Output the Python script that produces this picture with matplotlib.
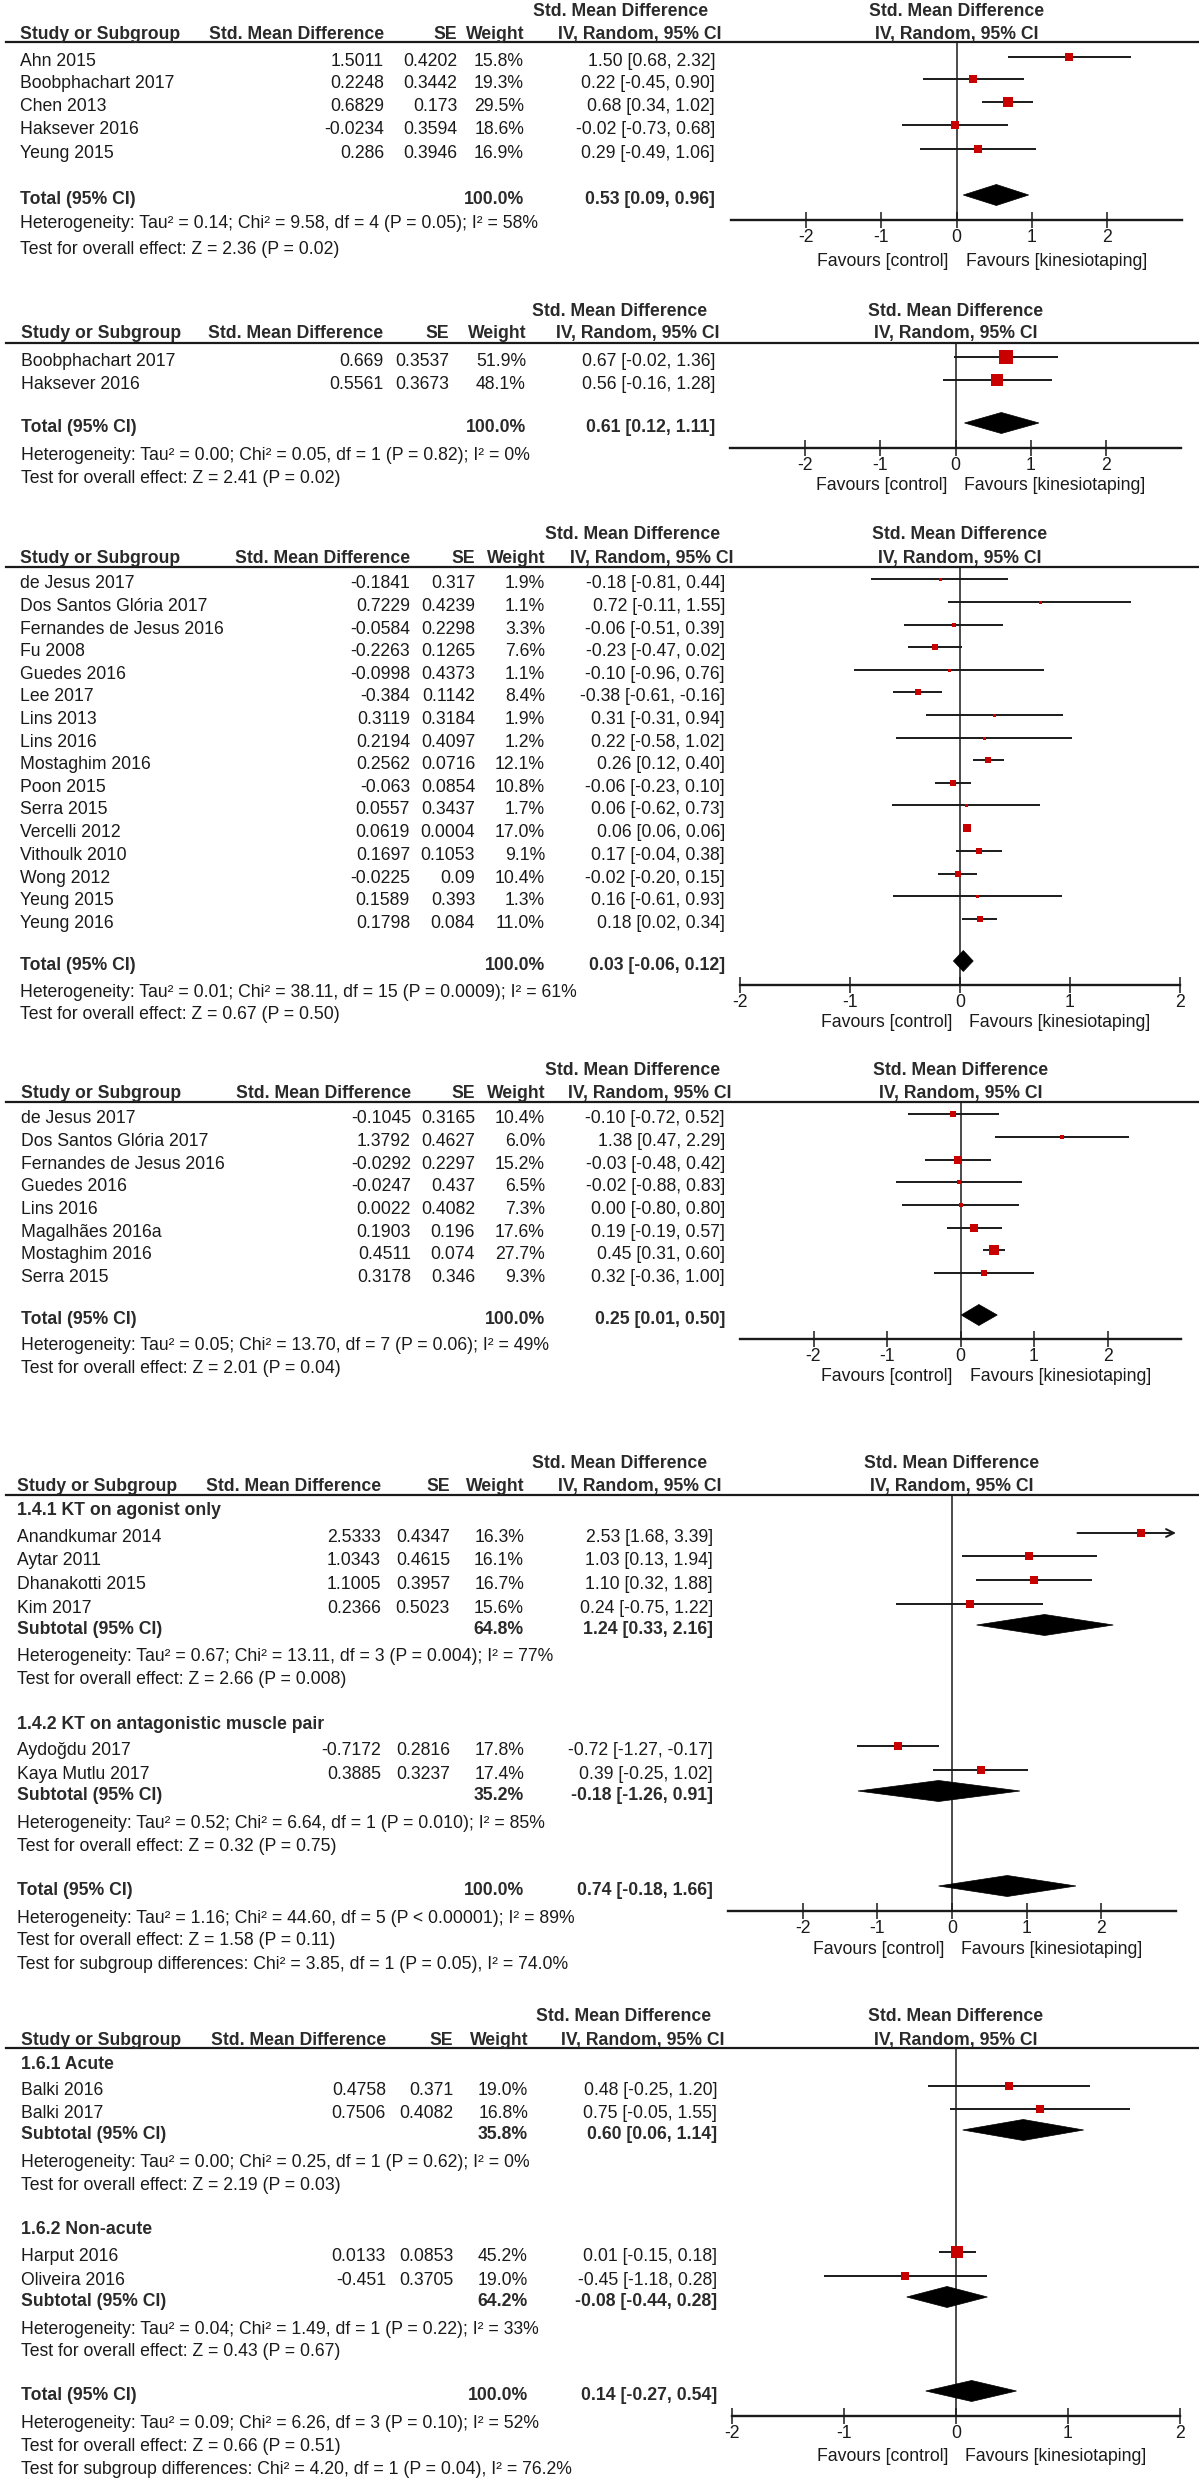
import matplotlib
matplotlib.use("Agg")
import matplotlib.pyplot as plt
from matplotlib.patches import Polygon
from matplotlib.lines import Line2D
import numpy as np

plt.rcParams['font.family'] = ['Liberation Sans', 'DejaVu Sans']
plt.rcParams['axes.unicode_minus'] = False

W, H = 1199, 2481
FS = 12.7
PT = 0.72          # points per pixel at dpi 100
INK = '#1a1a1a'
HEAD = '#2a2a2a'
RED = '#c80000'

# ---------------- panel 1 ----------------
p1_study = ["Ahn 2015", "Boobphachart 2017", "Chen 2013", "Haksever 2016", "Yeung 2015"]
p1_smd = [1.5011, 0.2248, 0.6829, -0.0234, 0.286]
p1_se = [0.4202, 0.3442, 0.173, 0.3594, 0.3946]
p1_weight = [15.8, 19.3, 29.5, 18.6, 16.9]
p1_est = [1.50, 0.22, 0.68, -0.02, 0.29]
p1_lo = [0.68, -0.45, 0.34, -0.73, -0.49]
p1_hi = [2.32, 0.90, 1.02, 0.68, 1.06]
p1_total = [100.0, 0.53, 0.09, 0.96]
p1_notes = ["Heterogeneity: Tau² = 0.14; Chi² = 9.58, df = 4 (P = 0.05); I² = 58%",
            "Test for overall effect: Z = 2.36 (P = 0.02)"]

# ---------------- panel 2 ----------------
p2_study = ["Boobphachart 2017", "Haksever 2016"]
p2_smd = [0.669, 0.5561]
p2_se = [0.3537, 0.3673]
p2_weight = [51.9, 48.1]
p2_est = [0.67, 0.56]
p2_lo = [-0.02, -0.16]
p2_hi = [1.36, 1.28]
p2_total = [100.0, 0.61, 0.12, 1.11]
p2_notes = ["Heterogeneity: Tau² = 0.00; Chi² = 0.05, df = 1 (P = 0.82); I² = 0%",
            "Test for overall effect: Z = 2.41 (P = 0.02)"]

# ---------------- panel 3 ----------------
p3_study = ["de Jesus 2017", "Dos Santos Glória 2017", "Fernandes de Jesus 2016", "Fu 2008",
            "Guedes 2016", "Lee 2017", "Lins 2013", "Lins 2016", "Mostaghim 2016", "Poon 2015",
            "Serra 2015", "Vercelli 2012", "Vithoulk 2010", "Wong 2012", "Yeung 2015", "Yeung 2016"]
p3_smd = [-0.1841, 0.7229, -0.0584, -0.2263, -0.0998, -0.384, 0.3119, 0.2194, 0.2562, -0.063,
          0.0557, 0.0619, 0.1697, -0.0225, 0.1589, 0.1798]
p3_se = [0.317, 0.4239, 0.2298, 0.1265, 0.4373, 0.1142, 0.3184, 0.4097, 0.0716, 0.0854,
         0.3437, 0.0004, 0.1053, 0.09, 0.393, 0.084]
p3_weight = [1.9, 1.1, 3.3, 7.6, 1.1, 8.4, 1.9, 1.2, 12.1, 10.8, 1.7, 17.0, 9.1, 10.4, 1.3, 11.0]
p3_est = [-0.18, 0.72, -0.06, -0.23, -0.10, -0.38, 0.31, 0.22, 0.26, -0.06, 0.06, 0.06, 0.17,
          -0.02, 0.16, 0.18]
p3_lo = [-0.81, -0.11, -0.51, -0.47, -0.96, -0.61, -0.31, -0.58, 0.12, -0.23, -0.62, 0.06, -0.04,
         -0.20, -0.61, 0.02]
p3_hi = [0.44, 1.55, 0.39, 0.02, 0.76, -0.16, 0.94, 1.02, 0.40, 0.10, 0.73, 0.06, 0.38, 0.15,
         0.93, 0.34]
p3_total = [100.0, 0.03, -0.06, 0.12]
p3_notes = ["Heterogeneity: Tau² = 0.01; Chi² = 38.11, df = 15 (P = 0.0009); I² = 61%",
            "Test for overall effect: Z = 0.67 (P = 0.50)"]

# ---------------- panel 4 ----------------
p4_study = ["de Jesus 2017", "Dos Santos Glória 2017", "Fernandes de Jesus 2016", "Guedes 2016",
            "Lins 2016", "Magalhães 2016a", "Mostaghim 2016", "Serra 2015"]
p4_smd = [-0.1045, 1.3792, -0.0292, -0.0247, 0.0022, 0.1903, 0.4511, 0.3178]
p4_se = [0.3165, 0.4627, 0.2297, 0.437, 0.4082, 0.196, 0.074, 0.346]
p4_weight = [10.4, 6.0, 15.2, 6.5, 7.3, 17.6, 27.7, 9.3]
p4_est = [-0.10, 1.38, -0.03, -0.02, 0.00, 0.19, 0.45, 0.32]
p4_lo = [-0.72, 0.47, -0.48, -0.88, -0.80, -0.19, 0.31, -0.36]
p4_hi = [0.52, 2.29, 0.42, 0.83, 0.80, 0.57, 0.60, 1.00]
p4_total = [100.0, 0.25, 0.01, 0.50]
p4_notes = ["Heterogeneity: Tau² = 0.05; Chi² = 13.70, df = 7 (P = 0.06); I² = 49%",
            "Test for overall effect: Z = 2.01 (P = 0.04)"]

# ---------------- panel 5 ----------------
p5_g1_label = "1.4.1 KT on agonist only"
p5_g1_study = ["Anandkumar 2014", "Aytar 2011", "Dhanakotti 2015", "Kim 2017"]
p5_g1_smd = [2.5333, 1.0343, 1.1005, 0.2366]
p5_g1_se = [0.4347, 0.4615, 0.3957, 0.5023]
p5_g1_weight = [16.3, 16.1, 16.7, 15.6]
p5_g1_est = [2.53, 1.03, 1.10, 0.24]
p5_g1_lo = [1.68, 0.13, 0.32, -0.75]
p5_g1_hi = [3.39, 1.94, 1.88, 1.22]
p5_g1_sub = [64.8, 1.24, 0.33, 2.16]
p5_g1_notes = ["Heterogeneity: Tau² = 0.67; Chi² = 13.11, df = 3 (P = 0.004); I² = 77%",
               "Test for overall effect: Z = 2.66 (P = 0.008)"]
p5_g2_label = "1.4.2 KT on antagonistic muscle pair"
p5_g2_study = ["Aydoğdu 2017", "Kaya Mutlu 2017"]
p5_g2_smd = [-0.7172, 0.3885]
p5_g2_se = [0.2816, 0.3237]
p5_g2_weight = [17.8, 17.4]
p5_g2_est = [-0.72, 0.39]
p5_g2_lo = [-1.27, -0.25]
p5_g2_hi = [-0.17, 1.02]
p5_g2_sub = [35.2, -0.18, -1.26, 0.91]
p5_g2_notes = ["Heterogeneity: Tau² = 0.52; Chi² = 6.64, df = 1 (P = 0.010); I² = 85%",
               "Test for overall effect: Z = 0.32 (P = 0.75)"]
p5_total = [100.0, 0.74, -0.18, 1.66]
p5_notes = ["Heterogeneity: Tau² = 1.16; Chi² = 44.60, df = 5 (P < 0.00001); I² = 89%",
            "Test for overall effect: Z = 1.58 (P = 0.11)",
            "Test for subgroup differences: Chi² = 3.85, df = 1 (P = 0.05), I² = 74.0%"]

# ---------------- panel 6 ----------------
p6_g1_label = "1.6.1 Acute"
p6_g1_study = ["Balki 2016", "Balki 2017"]
p6_g1_smd = [0.4758, 0.7506]
p6_g1_se = [0.371, 0.4082]
p6_g1_weight = [19.0, 16.8]
p6_g1_est = [0.48, 0.75]
p6_g1_lo = [-0.25, -0.05]
p6_g1_hi = [1.20, 1.55]
p6_g1_sub = [35.8, 0.60, 0.06, 1.14]
p6_g1_notes = ["Heterogeneity: Tau² = 0.00; Chi² = 0.25, df = 1 (P = 0.62); I² = 0%",
               "Test for overall effect: Z = 2.19 (P = 0.03)"]
p6_g2_label = "1.6.2 Non-acute"
p6_g2_study = ["Harput 2016", "Oliveira 2016"]
p6_g2_smd = [0.0133, -0.451]
p6_g2_se = [0.0853, 0.3705]
p6_g2_weight = [45.2, 19.0]
p6_g2_est = [0.01, -0.45]
p6_g2_lo = [-0.15, -1.18]
p6_g2_hi = [0.18, 0.28]
p6_g2_sub = [64.2, -0.08, -0.44, 0.28]
p6_g2_notes = ["Heterogeneity: Tau² = 0.04; Chi² = 1.49, df = 1 (P = 0.22); I² = 33%",
               "Test for overall effect: Z = 0.43 (P = 0.67)"]
p6_total = [100.0, 0.14, -0.27, 0.54]
p6_notes = ["Heterogeneity: Tau² = 0.09; Chi² = 6.26, df = 3 (P = 0.10); I² = 52%",
            "Test for overall effect: Z = 0.66 (P = 0.51)",
            "Test for subgroup differences: Chi² = 4.20, df = 1 (P = 0.04), I² = 76.2%"]

# ---------------- layout (pixel positions) ----------------
L1 = dict(name=20, smd=384, se=457, w=524, ci=715, h1r=708, ivr=722, x0=731, x1=1182, xlim=(-3, 3),
          h1=10, h2=33, line=42, axis=220, fav=40)
L2 = dict(name=21, smd=383, se=449, w=526, ci=715, h1r=707, ivr=720, x0=730, x1=1181, xlim=(-3, 3),
          h1=310, h2=332, line=343, axis=448, fav=36)
L3 = dict(name=20, smd=410, se=475, w=545, ci=725, h1r=720, ivr=733, x0=740, x1=1180, xlim=(-2, 2),
          h1=533, h2=557, line=567, axis=985, fav=36)
L4 = dict(name=21, smd=411, se=475, w=545, ci=725, h1r=720, ivr=732, x0=740, x1=1181, xlim=(-3, 3),
          h1=1069, h2=1092, line=1102, axis=1339, fav=36)
L5 = dict(name=17, smd=381, se=450, w=524, ci=713, h1r=707, ivr=721, x0=728, x1=1176, xlim=(-3, 3),
          h1=1462, h2=1485, line=1495, axis=1911, fav=37)
L6 = dict(name=21, smd=386, se=453, w=528, ci=717, h1r=711, ivr=725, x0=732, x1=1180, xlim=(-2, 2),
          h1=2015, h2=2039, line=2048, axis=2416, fav=39)

fig = plt.figure(figsize=(W / 100, H / 100), dpi=100)
fig.patch.set_facecolor('white')


def ftxt(x, y, s, ha='left', bold=False):
    fig.text(x / W, 1 - (y + 6) / H, s, ha=ha, va='baseline', fontsize=FS,
             fontweight='bold' if bold else 'normal', color=HEAD if bold else INK)


def ci_str(est, lo, hi):
    return "%.2f [%.2f, %.2f]" % (est, lo, hi)


def make_axes(L):
    zero = L['x0'] + (0 - L['xlim'][0]) / (L['xlim'][1] - L['xlim'][0]) * (L['x1'] - L['x0'])
    L['zero'] = zero
    ax = fig.add_axes([L['x0'] / W, 1 - L['axis'] / H, (L['x1'] - L['x0']) / W,
                       (L['axis'] - L['line']) / H])
    ax.set_xlim(*L['xlim'])
    ax.set_ylim(L['axis'], L['line'])
    ax.patch.set_alpha(0)
    for s in ['top', 'right', 'left']:
        ax.spines[s].set_visible(False)
    ax.spines['bottom'].set_linewidth(1.7)
    ax.spines['bottom'].set_color(INK)
    ax.set_xticks([-2, -1, 0, 1, 2])
    ax.set_xticklabels(['-2', '-1', '0', '1', '2'])
    ax.set_yticks([])
    ax.tick_params(axis='x', direction='inout', length=12, width=1.1, pad=0.5,
                   labelsize=FS, colors=INK)
    ax.axvline(0, color=INK, lw=1.1, zorder=1)
    ax.annotate("Favours [control]", xy=(0, 0), xycoords=('data', 'axes fraction'),
                xytext=(-8 * PT, -(L['fav'] + 6) * PT), textcoords='offset points',
                ha='right', va='baseline', fontsize=FS, color=INK)
    ax.annotate("Favours [kinesiotaping]", xy=(0, 0), xycoords=('data', 'axes fraction'),
                xytext=(9 * PT, -(L['fav'] + 6) * PT), textcoords='offset points',
                ha='left', va='baseline', fontsize=FS, color=INK)
    return ax


def header(L):
    ftxt(L['h1r'], L['h1'], "Std. Mean Difference", 'right', True)
    ftxt(L['zero'], L['h1'], "Std. Mean Difference", 'center', True)
    ftxt(L['name'], L['h2'], "Study or Subgroup", 'left', True)
    ftxt(L['smd'], L['h2'], "Std. Mean Difference", 'right', True)
    ftxt(L['se'], L['h2'], "SE", 'right', True)
    ftxt(L['w'], L['h2'], "Weight", 'right', True)
    ftxt(L['ivr'], L['h2'], "IV, Random, 95% CI", 'right', True)
    ftxt(L['zero'], L['h2'], "IV, Random, 95% CI", 'center', True)
    fig.add_artist(Line2D([6 / W, 1], [1 - L['line'] / H] * 2, lw=1.6, color=INK))


def studies(ax, L, names, smd, se, wt, est, lo, hi, ys):
    xmax = L['xlim'][1]
    for n, a, b, c, e, l, h, y in zip(names, smd, se, wt, est, lo, hi, ys):
        ftxt(L['name'], y, n)
        ftxt(L['smd'], y, str(a), 'right')
        ftxt(L['se'], y, str(b), 'right')
        ftxt(L['w'], y, "%.1f%%" % c, 'right')
        ftxt(L['ci'], y, ci_str(e, l, h), 'right')
        ym = y - 3
        if h > xmax:
            ax.annotate("", xy=(xmax, ym), xytext=(l, ym),
                        arrowprops=dict(arrowstyle='->', color=INK, lw=1.4,
                                        shrinkA=0, shrinkB=0, mutation_scale=14))
        else:
            ax.plot([l, h], [ym, ym], color=INK, lw=1.4, solid_capstyle='butt', zorder=2)
        side = max(1.85 * np.sqrt(c), 3.0)
        ax.plot([a], [ym], marker='s', ms=side * PT, color=RED, mew=0, zorder=3)


def summary(ax, L, label, vals, y):
    w, e, l, h = vals
    ftxt(L['name'], y, label, 'left', True)
    ftxt(L['w'], y, "%.1f%%" % w, 'right', True)
    ftxt(L['ci'], y, ci_str(e, l, h), 'right', True)
    ym = y - 3
    ax.add_patch(Polygon([(l, ym), (e, ym - 10.5), (h, ym), (e, ym + 10.5)],
                         closed=True, facecolor='black', edgecolor='black', lw=0.5, zorder=3))


def notes(L, lines, ys):
    for s, y in zip(lines, ys):
        ftxt(L['name'], y, s)


# panel 1
ax = make_axes(L1)
header(L1)
studies(ax, L1, p1_study, p1_smd, p1_se, p1_weight, p1_est, p1_lo, p1_hi, [60, 82, 105, 128, 152])
summary(ax, L1, "Total (95% CI)", p1_total, 198)
notes(L1, p1_notes, [222, 248])

# panel 2
ax = make_axes(L2)
header(L2)
studies(ax, L2, p2_study, p2_smd, p2_se, p2_weight, p2_est, p2_lo, p2_hi, [360, 383])
summary(ax, L2, "Total (95% CI)", p2_total, 426)
notes(L2, p2_notes, [454, 477])

# panel 3
ax = make_axes(L3)
header(L3)
p3_y = [582, 605, 628, 650, 673, 695, 718, 741, 763, 786, 808, 831, 854, 877, 899, 922]
studies(ax, L3, p3_study, p3_smd, p3_se, p3_weight, p3_est, p3_lo, p3_hi, p3_y)
summary(ax, L3, "Total (95% CI)", p3_total, 964)
notes(L3, p3_notes, [991, 1013])

# panel 4
ax = make_axes(L4)
header(L4)
p4_y = [1117, 1140, 1163, 1185, 1208, 1231, 1253, 1276]
studies(ax, L4, p4_study, p4_smd, p4_se, p4_weight, p4_est, p4_lo, p4_hi, p4_y)
summary(ax, L4, "Total (95% CI)", p4_total, 1318)
notes(L4, p4_notes, [1344, 1367])

# panel 5
ax = make_axes(L5)
header(L5)
ftxt(L5['name'], 1509, p5_g1_label, 'left', True)
studies(ax, L5, p5_g1_study, p5_g1_smd, p5_g1_se, p5_g1_weight, p5_g1_est, p5_g1_lo, p5_g1_hi,
        [1536, 1559, 1583, 1607])
summary(ax, L5, "Subtotal (95% CI)", p5_g1_sub, 1628)
notes(L5, p5_g1_notes, [1655, 1678])
ftxt(L5['name'], 1723, p5_g2_label, 'left', True)
studies(ax, L5, p5_g2_study, p5_g2_smd, p5_g2_se, p5_g2_weight, p5_g2_est, p5_g2_lo, p5_g2_hi,
        [1749, 1773])
summary(ax, L5, "Subtotal (95% CI)", p5_g2_sub, 1794)
notes(L5, p5_g2_notes, [1822, 1845])
summary(ax, L5, "Total (95% CI)", p5_total, 1889)
notes(L5, p5_notes, [1917, 1939, 1963])

# panel 6
ax = make_axes(L6)
header(L6)
ftxt(L6['name'], 2063, p6_g1_label, 'left', True)
studies(ax, L6, p6_g1_study, p6_g1_smd, p6_g1_se, p6_g1_weight, p6_g1_est, p6_g1_lo, p6_g1_hi,
        [2089, 2112])
summary(ax, L6, "Subtotal (95% CI)", p6_g1_sub, 2133)
notes(L6, p6_g1_notes, [2161, 2184])
ftxt(L6['name'], 2228, p6_g2_label, 'left', True)
studies(ax, L6, p6_g2_study, p6_g2_smd, p6_g2_se, p6_g2_weight, p6_g2_est, p6_g2_lo, p6_g2_hi,
        [2255, 2279])
summary(ax, L6, "Subtotal (95% CI)", p6_g2_sub, 2300)
notes(L6, p6_g2_notes, [2328, 2350])
summary(ax, L6, "Total (95% CI)", p6_total, 2394)
notes(L6, p6_notes, [2422, 2445, 2468])

fig.savefig('out.png', dpi=100)
